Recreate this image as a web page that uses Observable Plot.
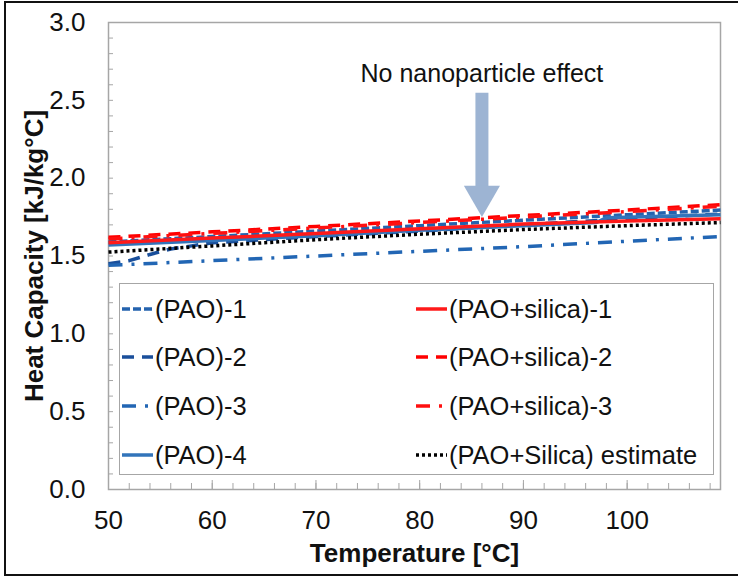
<!DOCTYPE html>
<html><head><meta charset="utf-8">
<script src="https://cdn.jsdelivr.net/npm/d3@7"></script>
<script src="https://cdn.jsdelivr.net/npm/@observablehq/plot@0.6"></script>
<style>
body{margin:0;background:#fff;}
#wrap{position:relative;width:738px;height:577px;font-family:"Liberation Sans",Arial,sans-serif;overflow:hidden;}
#border{position:absolute;left:4px;top:1px;width:800px;height:575px;border:2px solid #111;box-sizing:border-box;pointer-events:none}
#legend{position:absolute;left:119px;top:283px;width:595px;height:192px;border:1.5px solid #a6a6a6;box-sizing:border-box;background:#fff;}
.item{position:absolute;display:flex;align-items:center;font-size:25.5px;color:#111;white-space:nowrap;height:30px;}
.item svg{margin-right:2px;}
</style></head><body><div id="wrap"><div id="border"></div></div>
<script>
// ---- data ----
const temps = [50, 60, 70, 80, 90, 100, 109];
const pao1 = [1.59, 1.625, 1.66, 1.695, 1.73, 1.765, 1.795];
const pao2Temps = [50, 52, 54, 56, 58, 60, 70, 80, 90, 100, 109];
const pao2 = [1.45, 1.47, 1.51, 1.545, 1.565, 1.585, 1.625, 1.66, 1.70, 1.74, 1.77];
const pao3 = [1.44, 1.47, 1.50, 1.53, 1.56, 1.595, 1.625];
const pao4Temps = [50, 60, 70, 80, 90, 97, 98, 109];
const pao4 = [1.57, 1.60, 1.63, 1.665, 1.695, 1.715, 1.745, 1.765];
const silica1 = [1.585, 1.615, 1.645, 1.675, 1.705, 1.725, 1.74];
const silica2 = [1.62, 1.655, 1.69, 1.725, 1.76, 1.795, 1.83];
const silica3 = [1.61, 1.645, 1.68, 1.715, 1.75, 1.785, 1.82];
const estimate = [1.525, 1.565, 1.605, 1.64, 1.67, 1.695, 1.715];

const seriesNames = ["(PAO)-1", "(PAO)-2", "(PAO)-3", "(PAO)-4",
  "(PAO+silica)-1", "(PAO+silica)-2", "(PAO+silica)-3", "(PAO+Silica) estimate"];
const xTickLabels = [50, 60, 70, 80, 90, 100];
const yTickLabels = [0, 0.5, 1.0, 1.5, 2.0, 2.5, 3.0];
const annotationText = ["No nanoparticle effect"];
const annotationX = [86];
const annotationY = [2.672];
const arrowTop = [2.545];
const arrowNeck = [1.92];
const arrowHead = [1.885];

// ---- styles ----
const styles = [
  {color: "#2463AE", dash: "8,3"},
  {color: "#1A4F9B", dash: "12,8"},
  {color: "#2266B4", dash: "14,9,3,9"},
  {color: "#3274BA", dash: null},
  {color: "#FF1A1A", dash: null},
  {color: "#FF0000", dash: "12,8"},
  {color: "#FF1010", dash: "14,9,3,9"},
  {color: "#000000", dash: "3,3"}
];
const xs = [temps, pao2Temps, temps, pao4Temps, temps, temps, temps, temps];
const ys = [pao1, pao2, pao3, pao4, silica1, silica2, silica3, estimate];
const series = seriesNames.map((name, i) => ({
  name, ...styles[i],
  data: xs[i].map((t, j) => ({t, v: ys[i][j]}))
}));

const xMinor = d3.range(50, 109, 2);
const yMinor = d3.range(0, 3.001, 0.1).map(v => +v.toFixed(1));
const arrowColor = "#9DB4D3";

const lineMarks = series.map(s => Plot.line(s.data, {
  x: "t", y: "v", stroke: s.color, strokeWidth: 3.5,
  strokeDasharray: s.dash || undefined, strokeLinecap: "butt", strokeLinejoin: "round"
}));

const chart = Plot.plot({
  width: 738, height: 577,
  marginLeft: 108, marginRight: 18, marginTop: 22, marginBottom: 88,
  style: {fontFamily: "Liberation Sans, Arial, sans-serif", color: "#111", background: "transparent"},
  x: {domain: [50, 109]},
  y: {domain: [0, 3]},
  marks: [
    Plot.frame({stroke: "#a6a6a6", strokeWidth: 1.5}),
    Plot.axisY({ticks: yMinor, tickSize: -5, text: null, stroke: "#a6a6a6", label: null}),
    Plot.axisY({ticks: yTickLabels, tickSize: 0, tickPadding: 23, tickFormat: d3.format(".1f"), fontSize: 26, label: null}),
    Plot.axisX({ticks: xMinor, tickSize: -6, text: null, stroke: "#a6a6a6", label: null}),
    Plot.axisX({ticks: xTickLabels, tickSize: -9, stroke: "#a6a6a6", tickPadding: 30, fontSize: 26, label: null}),
    Plot.text(["Heat Capacity [kJ/kg°C]"], {frameAnchor: "left", textAnchor: "middle", lineAnchor: "middle", rotate: -90, dx: -74, fontSize: 26, fontWeight: "bold", fill: "#111"}),
    Plot.text(["Temperature [°C]"], {frameAnchor: "bottom", lineAnchor: "middle", dy: 64, fontSize: 26, fontWeight: "bold", fill: "#111"}),
    ...lineMarks,
    Plot.ruleX(annotationX, {x: d => d, y1: arrowTop, y2: arrowNeck, stroke: arrowColor, strokeWidth: 13}),
    Plot.dot(annotationX, {x: d => d, y: arrowHead, symbol: "triangle", rotate: 180, r: 13.4, fill: arrowColor, stroke: "none"}),
    Plot.text(annotationText, {x: annotationX, y: annotationY, text: d => d, fontSize: 25, fill: "#111"})
  ]
});
const wrap = document.getElementById("wrap");
wrap.insertBefore(chart, wrap.firstChild);

// ---- legend ----
const legend = document.createElement("div");
legend.id = "legend";
const rowTops = [10, 58, 107, 156];
const colLefts = [2, 296];
series.forEach((s, i) => {
  const col = i < 4 ? 0 : 1;
  const row = i % 4;
  const it = document.createElement("div");
  it.className = "item";
  it.style.left = colLefts[col] + "px";
  it.style.top = rowTops[row] + "px";
  const svg = d3.create("svg").attr("width", 31).attr("height", 10);
  svg.append("line").attr("x1", 0).attr("x2", 31).attr("y1", 5).attr("y2", 5)
    .attr("stroke", s.color).attr("stroke-width", 3.5)
    .attr("stroke-dasharray", s.dash || null);
  it.appendChild(svg.node());
  const sp = document.createElement("span");
  sp.textContent = s.name;
  it.appendChild(sp);
  legend.appendChild(it);
});
wrap.appendChild(legend);
</script>
</body></html>
